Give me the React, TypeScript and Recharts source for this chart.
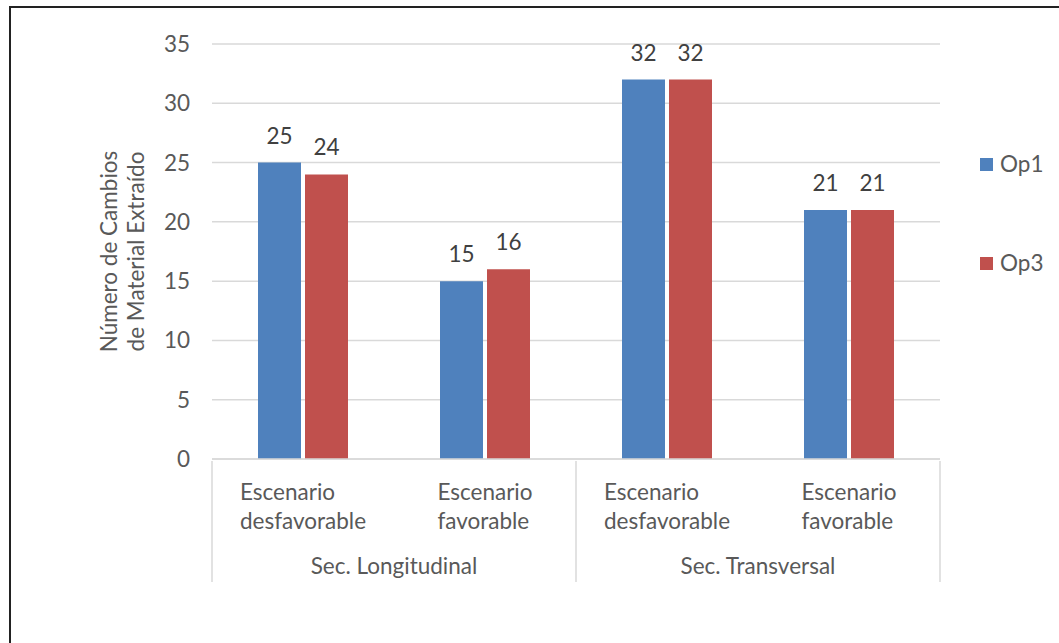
import { BarChart, Bar, XAxis, YAxis, CartesianGrid, LabelList } from 'recharts'

const scenarios = ['Escenario desfavorable', 'Escenario favorable', 'Escenario desfavorable', 'Escenario favorable']
const sections = ['Sec. Longitudinal', 'Sec. Longitudinal', 'Sec. Transversal', 'Sec. Transversal']
const op1 = [25, 15, 32, 21]
const op3 = [24, 16, 32, 21]
const yTicks = [0, 5, 10, 15, 20, 25, 30, 35]

const data = scenarios.map((s, i) => ({ scenario: s, section: sections[i], op1: op1[i], op3: op3[i] }))

const FONT = 'Lato, "Open Sans", sans-serif'
const FS = 22.5
const TEXT = '#595959'
const LINE = '#d9d9d9'
const BLUE = '#4f81bd'
const RED = '#c0504d'

const SCEN_H = 90
const SEC_H = 31

let ctx: CanvasRenderingContext2D | null = null
const measure = (s: string) => {
  if (!ctx) ctx = document.createElement('canvas').getContext('2d')
  if (!ctx) return s.length * 10
  ctx.font = `${FS}px ${FONT}`
  return ctx.measureText(s).width
}

// two-line category label, lines left aligned, block centred on the band
const ScenarioTick = (props: any) => {
  const { x, y, payload } = props
  const lines = String(payload.value).split(' ')
  const w = Math.max(...lines.map(measure))
  return (
    <g>
      {lines.map((l, i) => (
        <text key={i} x={x - w / 2} y={y + 39 + i * 29} fill={TEXT} fontSize={FS} textAnchor="start">
          {l}
        </text>
      ))}
    </g>
  )
}

// group label with the separators between sections
const SectionTick = (props: any) => {
  const { x, y, payload, index, visibleTicksCount } = props
  const half = payload.offset || 182
  const top = y - SCEN_H
  const bottom = y + SEC_H
  return (
    <g>
      <line x1={x - half} x2={x - half} y1={top} y2={bottom} stroke={LINE} strokeWidth={1.5} />
      {index === visibleTicksCount - 1 && (
        <line x1={x + half} x2={x + half} y1={top} y2={bottom} stroke={LINE} strokeWidth={1.5} />
      )}
      <text x={x} y={y + 23} fill={TEXT} fontSize={FS} textAnchor="middle">
        {payload.value}
      </text>
    </g>
  )
}

const YTitle = (props: any) => {
  const { viewBox } = props
  const cy = viewBox.y + viewBox.height / 2
  return (
    <g fill={TEXT} fontSize={FS}>
      <text transform={`translate(117,${cy}) rotate(-90)`} textAnchor="middle">Número de Cambios</text>
      <text transform={`translate(144,${cy}) rotate(-90)`} textAnchor="middle">de Material Extraído</text>
    </g>
  )
}

const legendItems = [
  { name: 'Op1', color: BLUE },
  { name: 'Op3', color: RED },
]

const App = () => {
  return (
    <div style={{ position: 'absolute', left: 0, top: 0, width: 1059, height: 643, background: '#fff', fontFamily: FONT }}>
      <div
        style={{
          position: 'absolute', left: 9, top: 6, right: 0, bottom: 0,
          borderTop: '2px solid #222', borderLeft: '2px solid #222',
        }}
      />
      <BarChart
        width={1059}
        height={643}
        data={data}
        margin={{ top: 44, right: 119, left: 152, bottom: 63 }}
        barSize={43}
        barGap={4}
        style={{ fontFamily: FONT }}
      >
        <CartesianGrid vertical={false} stroke={LINE} strokeWidth={1.5} />
        <XAxis
          dataKey="scenario"
          height={SCEN_H}
          tick={<ScenarioTick />}
          tickLine={false}
          tickSize={0}
          axisLine={{ stroke: LINE, strokeWidth: 1.5 }}
          interval={0}
        />
        <XAxis
          xAxisId="sec"
          dataKey="section"
          allowDuplicatedCategory={false}
          height={SEC_H}
          tick={<SectionTick />}
          tickLine={false}
          tickSize={0}
          axisLine={false}
          interval={0}
        />
        <YAxis
          width={60}
          domain={[0, 35]}
          ticks={yTicks}
          tickLine={false}
          tickSize={0}
          tickMargin={22}
          axisLine={false}
          tick={{ fontSize: FS, fill: TEXT }}
          label={{ content: <YTitle /> }}
        />
        <Bar dataKey="op1" fill={BLUE} isAnimationActive={false}>
          <LabelList dataKey="op1" position="top" offset={19} fill="#404040" fontSize={FS} />
        </Bar>
        <Bar dataKey="op3" fill={RED} isAnimationActive={false}>
          <LabelList dataKey="op3" position="top" offset={19} fill="#404040" fontSize={FS} />
        </Bar>
      </BarChart>
      <div style={{ position: 'absolute', left: 980, top: 148 }}>
        {legendItems.map((it, i) => (
          <div key={it.name} style={{ display: 'flex', alignItems: 'center', height: 30, marginTop: i ? 69 : 0 }}>
            <span style={{ width: 13, height: 13, background: it.color, marginRight: 7, marginTop: 3 }} />
            <span style={{ fontSize: FS, color: TEXT }}>{it.name}</span>
          </div>
        ))}
      </div>
    </div>
  )
}

export default App
